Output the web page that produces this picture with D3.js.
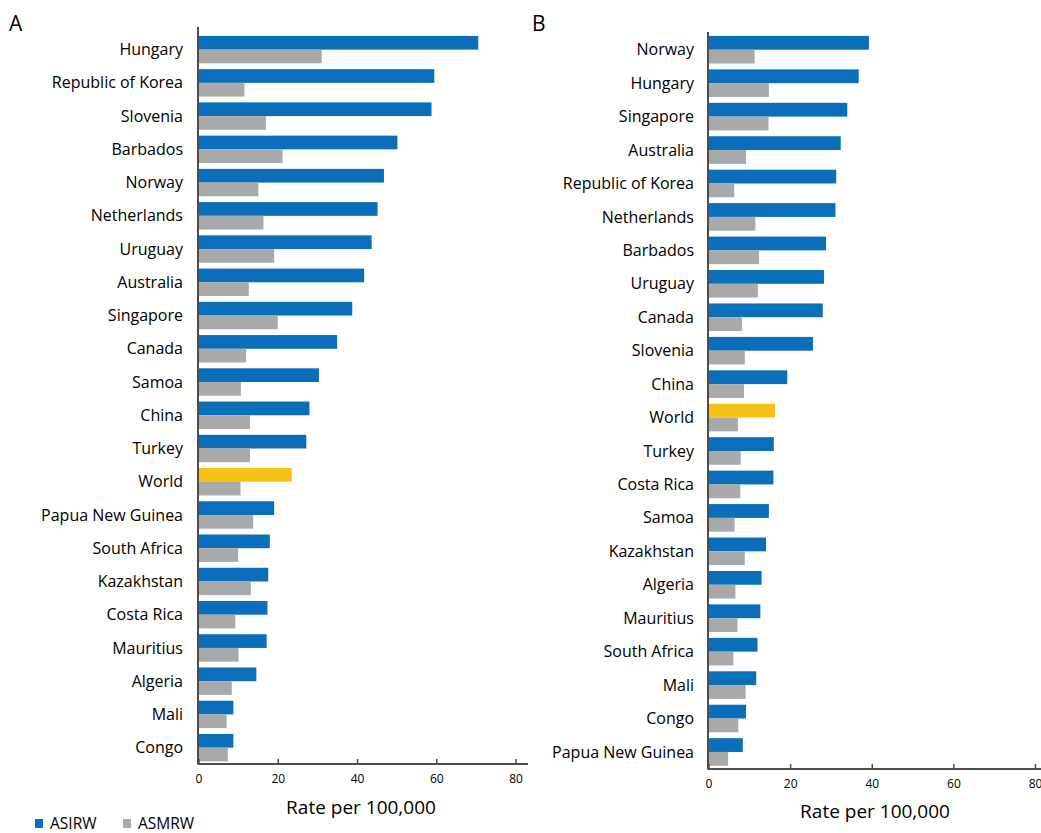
<!DOCTYPE html>
<html>
<head>
<meta charset="utf-8">
<script src="https://cdn.jsdelivr.net/npm/d3@7"></script>
<style>
    body { margin: 0; background: #fff; }
    svg text { font-family: "Open Sans", "Noto Sans", sans-serif; fill: #000; }
</style>
</head>
<body>
<svg id="chart" width="1041" height="833"></svg>
<script>
// Panel A data
const countriesA = ["Hungary", "Republic of Korea", "Slovenia", "Barbados", "Norway", "Netherlands",
    "Uruguay", "Australia", "Singapore", "Canada", "Samoa", "China", "Turkey", "World",
    "Papua New Guinea", "South Africa", "Kazakhstan", "Costa Rica", "Mauritius", "Algeria", "Mali", "Congo"];
const asirwA = [70.6, 59.5, 58.8, 50.2, 46.8, 45.2, 43.7, 41.8, 38.8, 35.0, 30.4, 28.0, 27.2, 23.5,
    19.1, 18.0, 17.6, 17.4, 17.2, 14.6, 8.8, 8.8];
const asmrwA = [31.1, 11.6, 17.0, 21.2, 15.1, 16.4, 19.1, 12.7, 20.0, 12.0, 10.7, 13.0, 13.0, 10.6,
    13.8, 10.0, 13.2, 9.3, 10.1, 8.4, 7.1, 7.4];

// Panel B data
const countriesB = ["Norway", "Hungary", "Singapore", "Australia", "Republic of Korea", "Netherlands",
    "Barbados", "Uruguay", "Canada", "Slovenia", "China", "World", "Turkey", "Costa Rica", "Samoa",
    "Kazakhstan", "Algeria", "Mauritius", "South Africa", "Mali", "Congo", "Papua New Guinea"];
const asirwB = [39.3, 36.8, 34.0, 32.4, 31.3, 31.1, 28.8, 28.3, 28.0, 25.6, 19.3, 16.3, 16.0, 15.9, 14.8,
    14.1, 13.0, 12.7, 12.0, 11.7, 9.2, 8.4];
const asmrwB = [11.3, 14.8, 14.7, 9.2, 6.3, 11.5, 12.4, 12.1, 8.2, 8.9, 8.7, 7.2, 7.9, 7.8, 6.4,
    8.9, 6.6, 7.1, 6.1, 9.1, 7.3, 4.8];

const seriesNames = ["ASIRW", "ASMRW"];
const xTicks = [0, 20, 40, 60, 80];

const blue = "#0a6ebb";
const grey = "#a9a9a9";
const yellow = "#f8bf17";
const axisColor = "#4d4d4d";

const svg = d3.select("#chart");

function drawPanel(opts) {
    let rows = opts.countries.map(function(c, i) {
        return {"Country": c, "ASIRW": opts.asirw[i], "ASMRW": opts.asmrw[i]};
    });

    let x = d3.scaleLinear().domain([0, 80]).range([opts.x0, opts.x1]);
    let y = d3.scaleBand()
        .domain(opts.countries)
        .range([33, 33 + opts.countries.length * opts.step])
        .paddingInner(0.175)
        .paddingOuter(0.0875);
    let ySub = d3.scaleBand().domain(seriesNames).range([0, y.bandwidth()]);

    let g = svg.append("g");

    // Bars
    let groups = g.selectAll("g.row")
        .data(rows)
        .enter()
        .append("g")
        .attr("class", "row")
        .attr("transform", function(d) { return "translate(0," + y(d["Country"]) + ")"; });

    groups.selectAll("rect")
        .data(function(d) {
            return seriesNames.map(function(s) { return {"key": s, "value": d[s], "country": d["Country"]}; });
        })
        .enter()
        .append("rect")
        .attr("x", x(0))
        .attr("y", function(d) { return ySub(d.key); })
        .attr("width", function(d) { return x(d.value) - x(0); })
        .attr("height", ySub.bandwidth())
        .attr("fill", function(d) {
            if (d.key === "ASMRW") return grey;
            return d.country === "World" ? yellow : blue;
        });

    // Country labels
    g.selectAll("text.label")
        .data(opts.countries)
        .enter()
        .append("text")
        .attr("class", "label")
        .attr("x", opts.labelX)
        .attr("y", function(d) { return y(d) + y.bandwidth() / 2; })
        .attr("dy", "0.35em")
        .attr("text-anchor", "end")
        .style("font-size", "16px")
        .text(function(d) { return d; });

    // x axis with ticks pointing up
    let axis = d3.axisBottom(x).tickValues(xTicks).tickSizeInner(-5).tickSizeOuter(0).tickPadding(10);
    let ax = g.append("g")
        .attr("transform", "translate(0," + opts.axisY + ")")
        .call(axis);
    ax.select(".domain").remove();
    ax.selectAll(".tick line").attr("stroke", axisColor).attr("stroke-width", 1.5);
    ax.selectAll(".tick text").style("font-size", "12px").style("font-family", "'Open Sans', sans-serif").attr("fill", "#000");
    ax.append("line")
        .attr("x1", opts.x0 - 1).attr("x2", opts.axisEnd)
        .attr("stroke", axisColor).attr("stroke-width", 2);

    // vertical axis line
    g.append("line")
        .attr("x1", opts.x0 - 0.5).attr("x2", opts.x0 - 0.5)
        .attr("y1", opts.axisTop).attr("y2", opts.axisY)
        .attr("stroke", axisColor).attr("stroke-width", 2);

    // Axis title
    g.append("text")
        .attr("x", opts.titleX)
        .attr("y", opts.titleY)
        .attr("text-anchor", "middle")
        .style("font-size", "19px")
        .text("Rate per 100,000");

    // Panel letter
    g.append("text")
        .attr("x", opts.letterX)
        .attr("y", 31)
        .style("font-size", "21px")
        .text(opts.letter);
}

drawPanel({
    countries: countriesA, asirw: asirwA, asmrw: asmrwA,
    x0: 198.5, x1: 515.5, step: 33.24, axisY: 764, axisTop: 27, axisEnd: 528,
    labelX: 183, titleX: 361, titleY: 814, letter: "A", letterX: 9
});

drawPanel({
    countries: countriesB, asirw: asirwB, asmrw: asmrwB,
    x0: 708.5, x1: 1035, step: 33.44, axisY: 769, axisTop: 32, axisEnd: 1045,
    labelX: 694, titleX: 875, titleY: 818, letter: "B", letterX: 532
});

// Legend
let legend = svg.append("g").attr("transform", "translate(35,819)");
legend.selectAll("rect")
    .data(seriesNames)
    .enter()
    .append("rect")
    .attr("x", function(d, i) { return i * 88; })
    .attr("y", 0)
    .attr("width", 8)
    .attr("height", 9)
    .attr("fill", function(d, i) { return i === 0 ? blue : grey; });
legend.selectAll("text")
    .data(seriesNames)
    .enter()
    .append("text")
    .attr("x", function(d, i) { return i * 88 + 15; })
    .attr("y", 10)
    .style("font-size", "15.5px")
    .text(function(d) { return d; });
</script>
</body>
</html>
